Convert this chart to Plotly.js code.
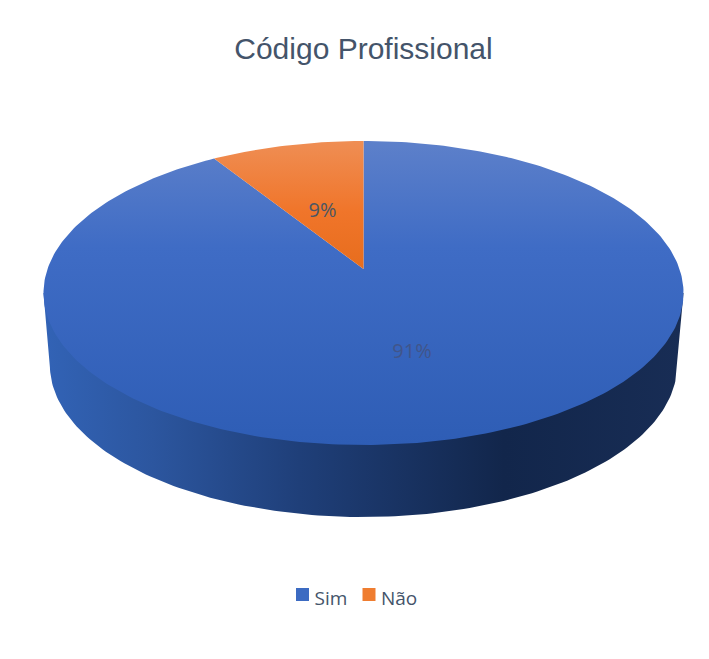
<!DOCTYPE html>
<html>
<head>
<meta charset="utf-8">
<script src="https://cdn.plot.ly/plotly-3.0.1.min.js"></script>
<style>html,body{margin:0;padding:0;background:#fff}#chart{width:709px;height:659px}</style>
</head>
<body>
<div id="chart"></div>
<script>
// Data
const titleText = 'Código Profissional';
const categories = ['Sim', 'Não'];
const shares = [91, 9];
const legendColors = ['#3c6bc2', '#ef7d30'];

// Tilted-disc projection (a circle seen in perspective) and wall depth, in px
const K = 316, RY = 152, CY = 24, P = 0.158, DEPTH = 72, WALL_SCALE = 0.98;
const project = (u, v) => {
  const w = 1 + P * v;
  return [K * u / w, (RY * v + CY) / w];
};
const rim = deg => {
  const a = deg * Math.PI / 180;
  return project(Math.sin(a), Math.cos(a));
};

// Slice outlines follow from the shares, angle measured clockwise from the top
const naoSpan = 360 * shares[1] / (shares[0] + shares[1]);
function slicePath(fromDeg, toDeg) {
  const pts = [project(0, 0)];
  const n = Math.ceil(Math.abs(toDeg - fromDeg));
  for (let i = 0; i <= n; i++) pts.push(rim(fromDeg + (toDeg - fromDeg) * i / n));
  pts.push(project(0, 0));
  return pts;
}
function wallPath() {
  const edge = Math.asin(Math.sqrt(1 - P * P)) * 180 / Math.PI; // widest rim point
  const start = 180 - edge, end = 180 + edge;
  const pts = [rim(start)];
  for (let d = start; d <= end + 1e-6; d += 1) {
    const p = rim(d);
    pts.push([p[0] * WALL_SCALE, p[1] - DEPTH]);
  }
  pts.push(rim(end));
  return pts;
}

const areaTrace = (pts, gradient, name) => ({
  type: 'scatter', mode: 'lines', name,
  x: pts.map(p => p[0]), y: pts.map(p => p[1]),
  fill: 'toself', fillcolor: gradient.colorscale[0][1], fillgradient: gradient,
  line: {width: 0}, showlegend: false, hoverinfo: 'skip'
});

const wall = areaTrace(wallPath(), {
  type: 'horizontal', start: -320, stop: 320,
  colorscale: [[0, '#3263b6'], [0.17, '#2c569f'], [0.4, '#1f3f79'], [0.72, '#12264b'], [1, '#182d55']]
}, 'wall');
const simTop = areaTrace(slicePath(0, 360 - naoSpan), {
  type: 'vertical', start: 152, stop: -152,
  colorscale: [[0, '#5d80ca'], [0.35, '#3f6cc5'], [1, '#2e5db5']]
}, categories[0]);
const naoTop = areaTrace(slicePath(360 - naoSpan, 360), {
  type: 'vertical', start: 152, stop: 24,
  colorscale: [[0, '#ef8e54'], [0.55, '#f0752a'], [1, '#e76d1d']]
}, categories[1]);

// Percentage labels
const labelSpots = [project(0.141, -0.52), project(-0.138, 0.41)];
const labels = {
  type: 'scatter', mode: 'text',
  x: labelSpots.map(p => p[0]), y: labelSpots.map(p => p[1]),
  text: shares.map(s => s + '%'), textposition: 'middle center',
  textfont: {family: 'Open Sans, Noto Sans, sans-serif', size: 20, color: ['#41558a', '#4a5664']},
  showlegend: false, hoverinfo: 'skip'
};

// Legend row, placed by page offsets from the disc centre (363.5, 293)
const keyX = [-61, 5.5], keyY = -301.5, keyTextX = [-49, 17.5], keyTextY = -307;
const legendKeys = {
  type: 'scatter', mode: 'markers', x: keyX, y: keyX.map(() => keyY),
  marker: {symbol: 'square', size: 13, color: legendColors, line: {width: 0}},
  showlegend: false, hoverinfo: 'skip'
};
const legendText = {
  type: 'scatter', mode: 'text', x: keyTextX, y: keyTextX.map(() => keyTextY),
  text: categories, textposition: 'middle right',
  textfont: {family: 'Open Sans, Noto Sans, sans-serif', size: 19, color: '#44546a'},
  showlegend: false, hoverinfo: 'skip'
};

const layout = {
  width: 709, height: 659, autosize: false,
  margin: {l: 0, r: 0, t: 0, b: 0},
  paper_bgcolor: '#fff', plot_bgcolor: '#fff',
  title: {text: titleText, x: 363.5 / 709, xanchor: 'center', y: 1 - 48 / 659, yanchor: 'middle',
          font: {family: 'Liberation Sans, Arial, sans-serif', size: 30, color: '#44546a'}},
  xaxis: {range: [-363.5, 345.5], visible: false, fixedrange: true},
  yaxis: {range: [-366, 293], visible: false, fixedrange: true},
  showlegend: false,
  hovermode: false
};

Plotly.newPlot('chart', [wall, simTop, naoTop, labels, legendKeys, legendText], layout, {displayModeBar: false});
</script>
</body>
</html>
